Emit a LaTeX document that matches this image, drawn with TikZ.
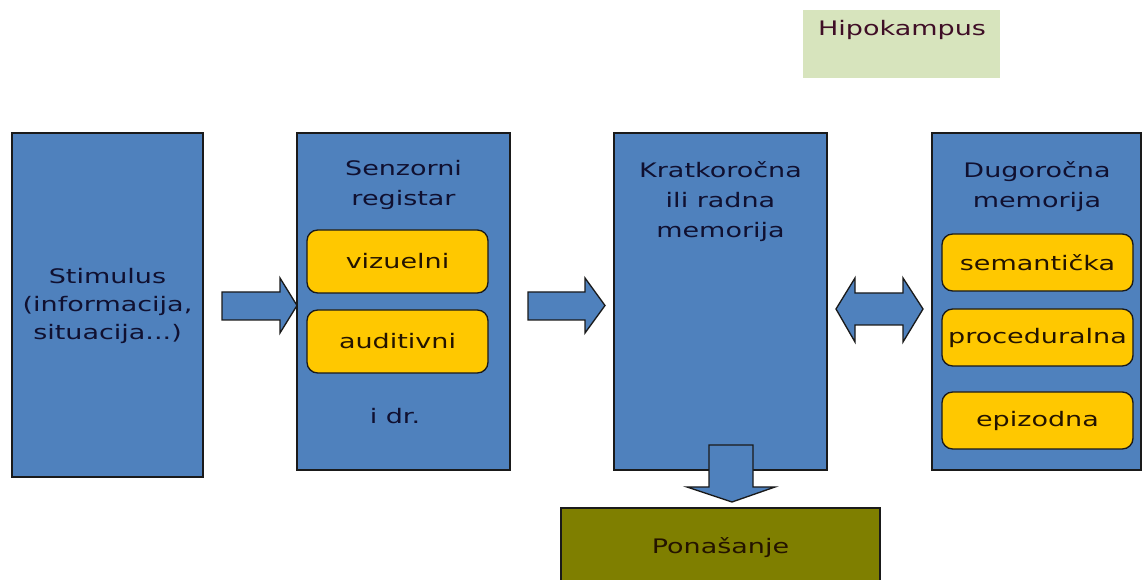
\documentclass[tikz,border=0pt]{standalone}
\usepackage{fontspec}
\setmainfont{DejaVu Sans}[FakeStretch=1.35]
\definecolor{boxblue}{HTML}{4F81BD}
\definecolor{subyellow}{HTML}{FFC800}
\definecolor{olivebox}{HTML}{7F7F00}
\definecolor{hipo}{HTML}{D7E4BD}
\definecolor{edge}{HTML}{1A1A1A}
\definecolor{navytext}{HTML}{101030}
\definecolor{browntext}{HTML}{241400}
\begin{document}
\begin{tikzpicture}[x=0.75pt,y=-0.75pt,
  box/.style={draw=edge,fill=boxblue,line width=1pt,inner sep=0pt},
  sub/.style={draw=edge,fill=subyellow,line width=1pt,rounded corners=8pt,inner sep=0pt,text=browntext,font=\fontsize{15}{18}\selectfont},
  lbl/.style={text=navytext,align=center,inner sep=0pt,font=\fontsize{15}{22.5}\selectfont},
  barrow/.style={draw=edge,fill=boxblue,line width=1pt,line join=miter}
]
\useasboundingbox (0,0) rectangle (1143,580);
% main boxes
\node[box,minimum width=191*0.75pt,minimum height=344*0.75pt] (stim) at (107.5,305) {};
\node[box,minimum width=213*0.75pt,minimum height=337*0.75pt] (senz) at (403.5,301.5) {};
\node[box,minimum width=213*0.75pt,minimum height=337*0.75pt] (krat) at (720.5,301.5) {};
\node[box,minimum width=209*0.75pt,minimum height=337*0.75pt] (dugo) at (1036.5,301.5) {};
\node[fill=hipo,inner sep=0pt,minimum width=197*0.75pt,minimum height=68*0.75pt] (hipo) at (901.5,44) {};
\node[draw=edge,fill=olivebox,line width=1pt,inner sep=0pt,minimum width=319*0.75pt,minimum height=92*0.75pt] (pona) at (720.5,554) {};
% texts
\node[lbl,font=\fontsize{15}{21}\selectfont] (stimt) at (107.5,306) {Stimulus\\(informacija,\\situacija...)};
\node[lbl] (senzt) at (403.5,185) {Senzorni\\registar};
\node[lbl] (idr) at (395,416) {i dr.};
\node[lbl] (kratt) at (720.5,202) {Kratkoročna\\ili radna\\memorija};
\node[lbl] (dugot) at (1037,187) {Dugoročna\\memorija};
\node[lbl,text=browntext!70!violet] (hipot) at (902,30) {Hipokampus};
\node[lbl,text=browntext] (ponat) at (720.5,548) {Ponašanje};
% sub boxes
\node[sub,minimum width=181*0.75pt,minimum height=63*0.75pt] (viz) at (397.5,261.5) {vizuelni};
\node[sub,minimum width=181*0.75pt,minimum height=63*0.75pt] (aud) at (397.5,341.5) {auditivni};
\node[sub,minimum width=191*0.75pt,minimum height=57*0.75pt] (sem) at (1037.5,262.5) {semantička};
\node[sub,minimum width=191*0.75pt,minimum height=57*0.75pt] (proc) at (1037.5,337.5) {proceduralna};
\node[sub,minimum width=191*0.75pt,minimum height=57*0.75pt] (epi) at (1037.5,420.5) {epizodna};
% block arrows
\draw[barrow] (222,292) -- (280,292) -- (280,278) -- (297,305.5) -- (280,333) -- (280,320) -- (222,320) -- cycle;
\draw[barrow] (528,292) -- (585,292) -- (585,278) -- (605,305.5) -- (585,333) -- (585,320) -- (528,320) -- cycle;
\draw[barrow] (836,309) -- (855,278) -- (855,293) -- (903,293) -- (903,278) -- (923,309) -- (903,342) -- (903,325) -- (855,325) -- (855,342) -- cycle;
\draw[barrow] (709,445) -- (753,445) -- (753,487) -- (775,487) -- (732,502) -- (687,487) -- (709,487) -- cycle;
\end{tikzpicture}
\end{document}
